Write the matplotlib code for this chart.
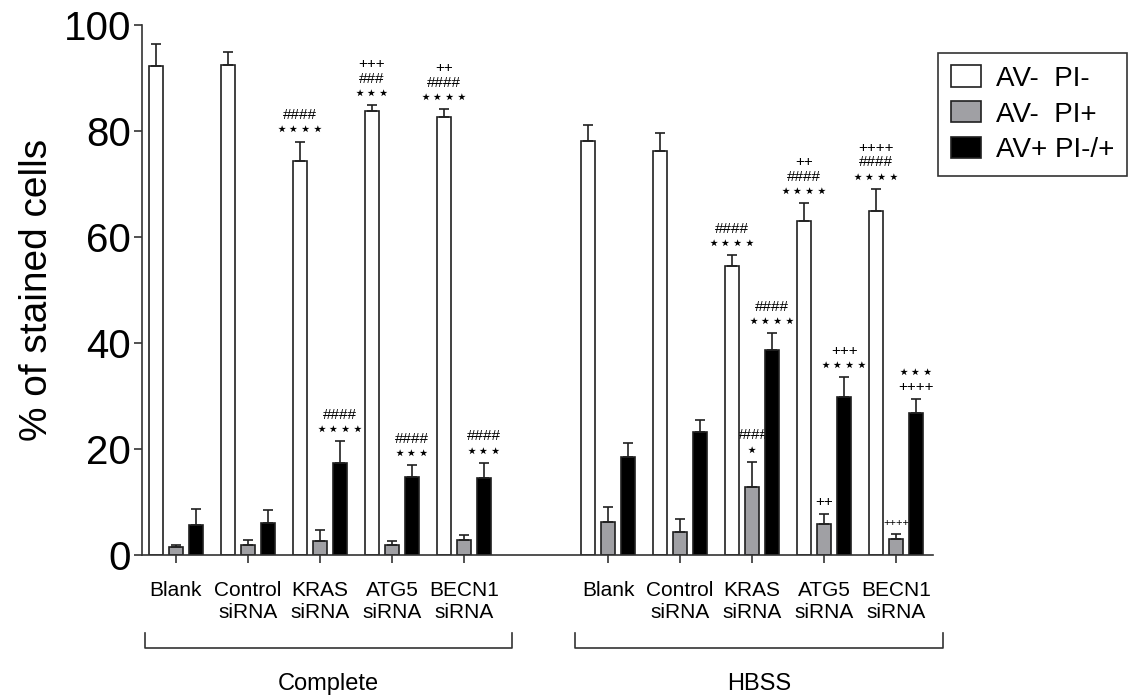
import numpy as np
import matplotlib
matplotlib.use("Agg")
import matplotlib.pyplot as plt
from matplotlib.patches import Patch

plt.rcParams['font.family'] = ['Liberation Sans', 'DejaVu Sans']

# categories (Complete medium first, then HBSS)
categories = ['Blank', 'Control\nsiRNA', 'KRAS\nsiRNA', 'ATG5\nsiRNA', 'BECN1\nsiRNA',
              'Blank', 'Control\nsiRNA', 'KRAS\nsiRNA', 'ATG5\nsiRNA', 'BECN1\nsiRNA']
positions = [0, 1, 2, 3, 4, 6, 7, 8, 9, 10]
groups = ['Complete', 'HBSS']

# mean values (% of stained cells)
av_neg_pi_neg = [92.2, 92.4, 74.3, 83.8, 82.6, 78.1, 76.2, 54.5, 63.0, 64.9]
av_neg_pi_pos = [1.5, 1.9, 2.6, 1.9, 2.8, 6.2, 4.3, 12.8, 5.8, 3.1]
av_pos_pi_any = [5.6, 6.0, 17.3, 14.8, 14.5, 18.5, 23.2, 38.7, 29.9, 26.8]

# SEM (upper only)
err_neg_neg = [4.2, 2.5, 3.7, 1.1, 1.5, 3.0, 3.4, 2.1, 3.4, 4.2]
err_neg_pos = [0.3, 0.9, 2.2, 0.7, 1.0, 2.8, 2.5, 4.8, 1.9, 0.8]
err_pos_any = [3.1, 2.5, 4.2, 2.1, 2.9, 2.6, 2.3, 3.1, 3.6, 2.7]

legend_labels = ['AV-  PI-', 'AV-  PI+', 'AV+ PI-/+']

# significance marks, listed bottom to top, keyed by category index
marks_white = {2: ['****', '####'], 3: ['***', '###', '+++'], 4: ['****', '####', '++'],
               7: ['****', '####'], 8: ['****', '####', '++'], 9: ['****', '####', '++++']}
marks_gray = {7: ['*', '####'], 8: ['++'], 9: ['++++']}
marks_black = {2: ['****', '####'], 3: ['***', '####'], 4: ['***', '####'],
               7: ['****', '####'], 8: ['****', '+++'], 9: ['++++', '***']}

fig = plt.figure(figsize=(11.3, 6.98), dpi=100)
ax = fig.add_axes([142 / 1130, 1 - 555 / 698, 791 / 1130, 530 / 698])

x = np.array(positions, dtype=float)
w = 0.19
off = 0.278

series = [
    (av_neg_pi_neg, err_neg_neg, 'white', marks_white, -off),
    (av_neg_pi_pos, err_neg_pos, '#a0a0a4', marks_gray, 0.0),
    (av_pos_pi_any, err_pos_any, 'black', marks_black, off),
]

for vals, errs, col, marks, dx in series:
    ax.bar(x + dx, vals, w, color=col, edgecolor='#202020', linewidth=1.2, zorder=2)
    ax.errorbar(x + dx, vals, yerr=[np.zeros(len(errs)), errs], fmt='none',
                ecolor='#202020', elinewidth=1.2, capsize=3.5, capthick=1.2, zorder=2)
    for i, lines in marks.items():
        top = vals[i] + errs[i]
        for k, s in enumerate(lines):
            z = 1 if (col == '#a0a0a4' and s == '####') else 3
            if s.startswith('*'):
                # stars drawn with the star operator glyph
                txt = '\u22c6' * len(s)
                fam = ['DejaVu Sans']
                fs = 14
            else:
                txt = s
                fam = ['Liberation Sans']
                fs = 8 if (col == '#a0a0a4' and s == '++++') else 11
            ax.annotate(txt, xy=(x[i] + dx, top), xytext=(0, 8.5 + k * 10.5),
                        textcoords='offset points', ha='center', va='center',
                        fontsize=fs, family=fam, zorder=z)

ax.set_ylim(0, 100)
ax.set_xlim(-0.47, 10.51)
ax.set_yticks([0, 20, 40, 60, 80, 100])
ax.set_xticks(positions)
ax.set_xticklabels(categories, fontsize=15, linespacing=1.2)
ax.tick_params(axis='y', labelsize=29, length=6, width=1.2, pad=2, color='#333333')
ax.tick_params(axis='x', length=6, width=1.2, pad=13, color='#333333')
ax.set_ylabel('% of stained cells', fontsize=28, labelpad=6)

for side in ['top', 'right']:
    ax.spines[side].set_visible(False)
for side in ['left', 'bottom']:
    ax.spines[side].set_linewidth(1.2)
    ax.spines[side].set_color('#333333')

# group brackets under the tick labels
brackets = [(-0.43, 4.67), (5.54, 10.65)]
for (x0, x1), name in zip(brackets, groups):
    ax.plot([x0, x0, x1, x1], [-14.7, -17.5, -17.5, -14.7], color='#333333',
            lw=1.2, clip_on=False)
    ax.text((x0 + x1) / 2, -24.3, name, ha='center', va='center', fontsize=17)

handles = [Patch(facecolor='white', edgecolor='#202020', linewidth=1.2),
           Patch(facecolor='#a0a0a4', edgecolor='#202020', linewidth=1.2),
           Patch(facecolor='black', edgecolor='#202020', linewidth=1.2)]
leg = fig.legend(handles, legend_labels, loc='upper left',
                 bbox_to_anchor=(938 / 1130, 1 - 53 / 698), borderaxespad=0,
                 fontsize=20, fancybox=False, framealpha=1, edgecolor='#333333',
                 handlelength=1.1, handleheight=0.8, handletextpad=0.55,
                 labelspacing=0.34, borderpad=0.45)
leg.get_frame().set_linewidth(1.2)

fig.savefig('out.png', dpi=100)
